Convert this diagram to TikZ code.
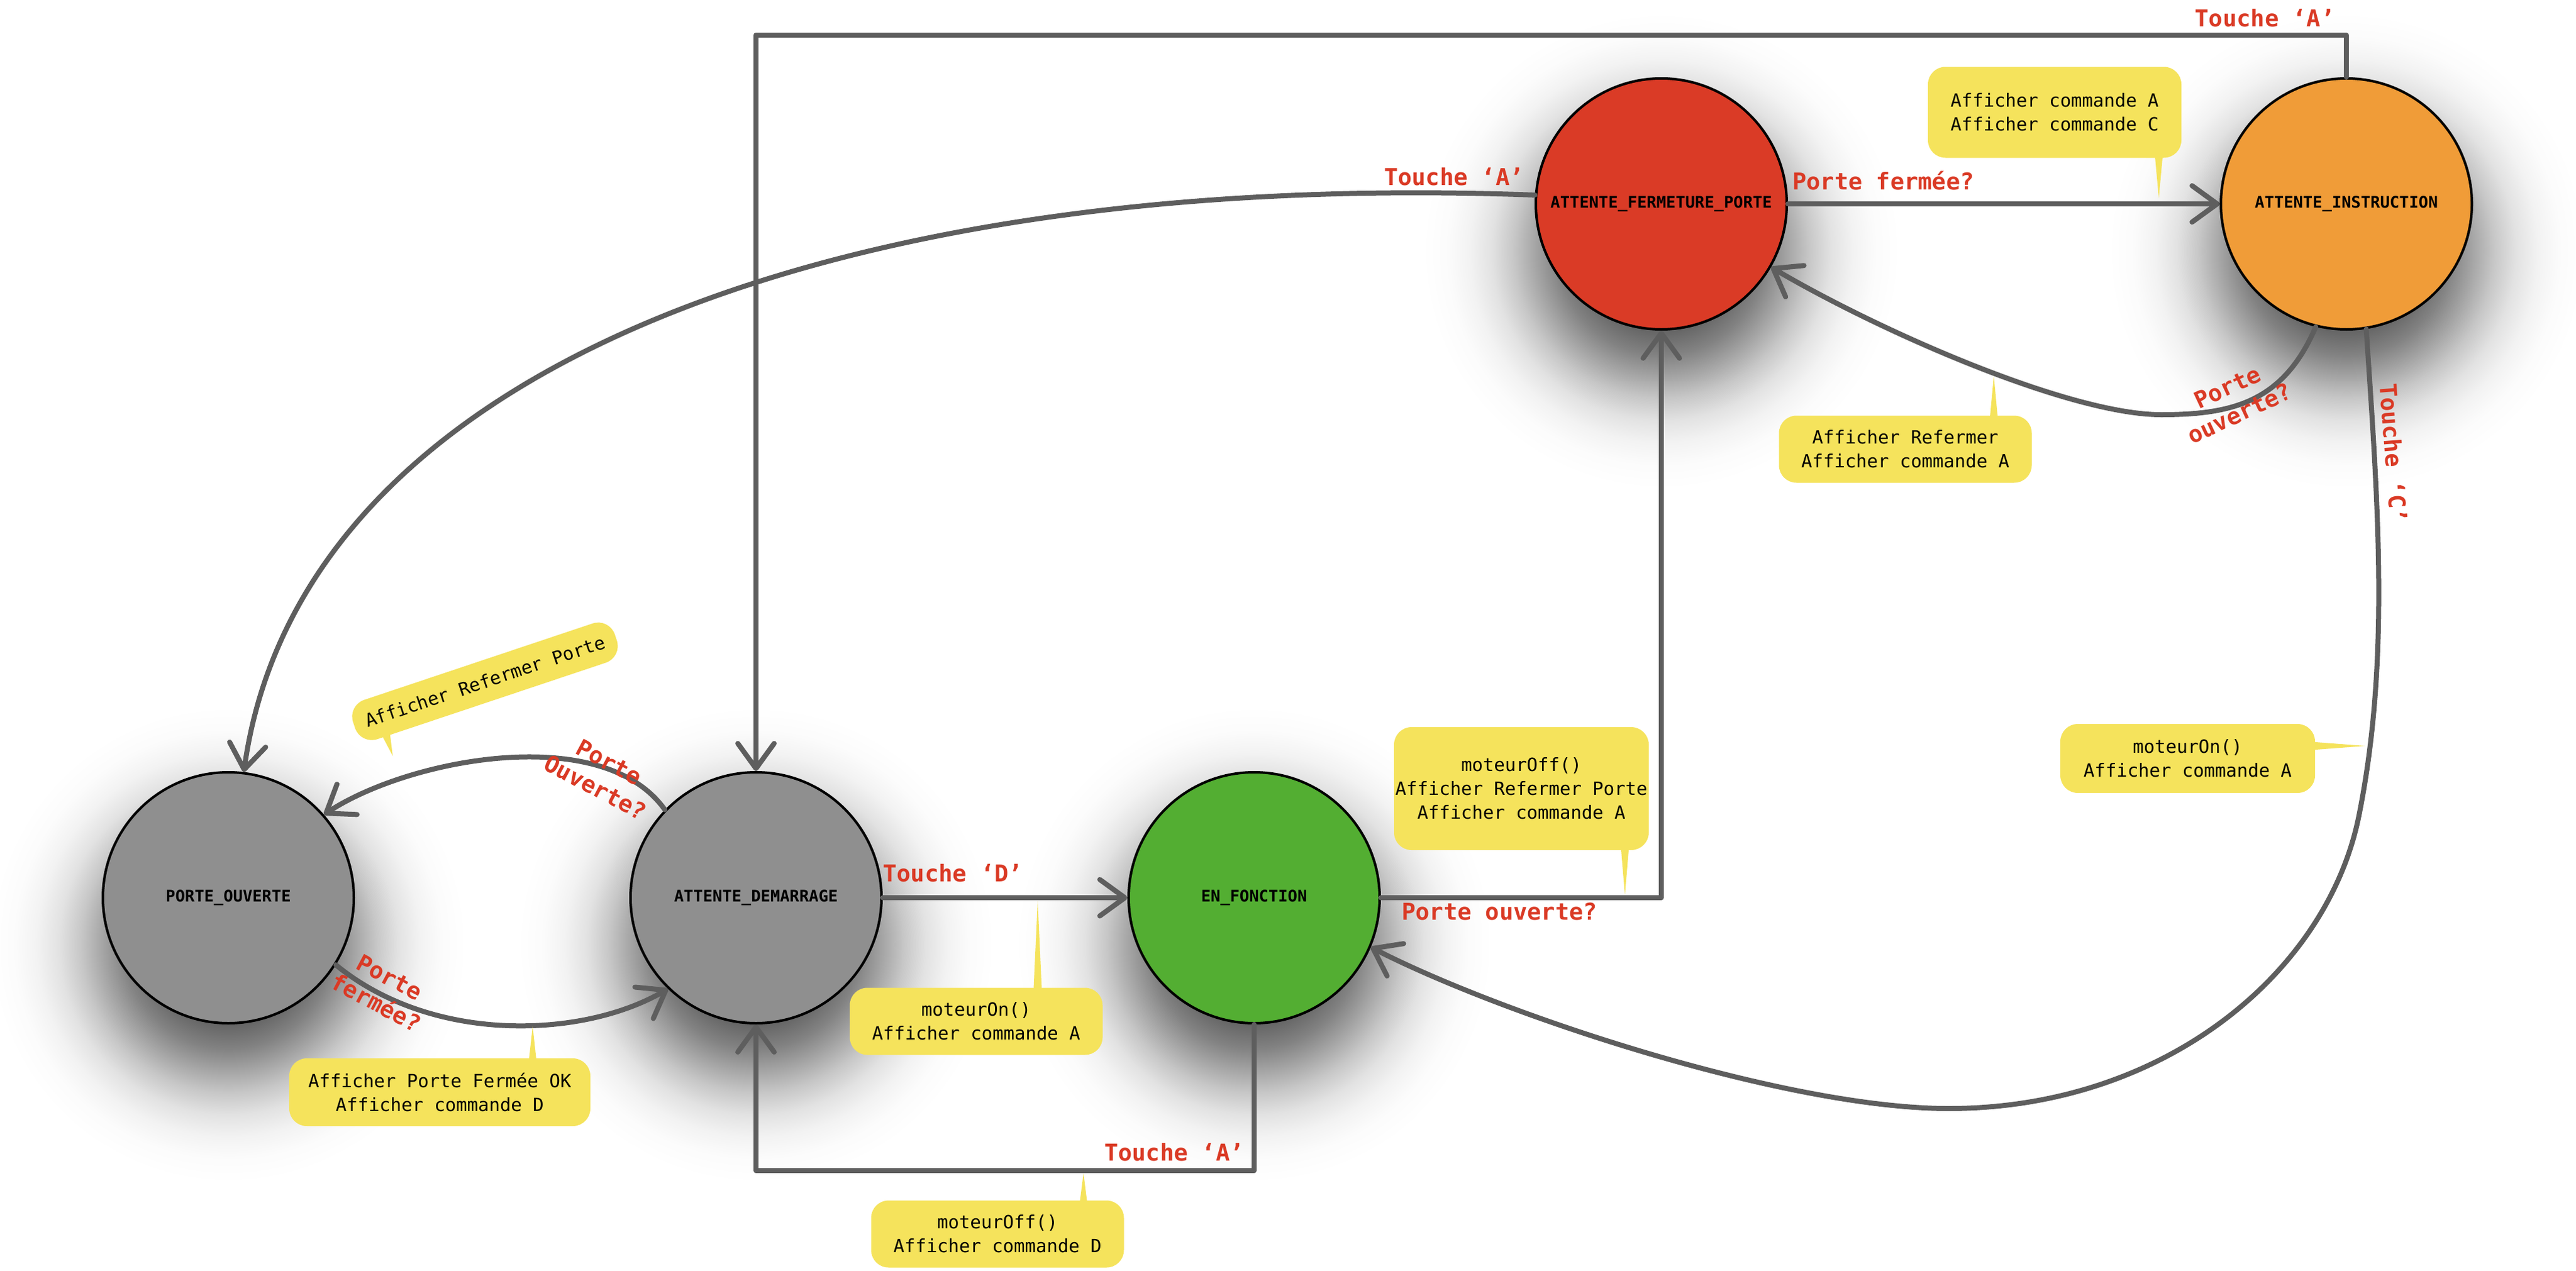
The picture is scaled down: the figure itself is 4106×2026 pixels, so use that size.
\documentclass[tikz,border=0pt]{standalone}
\usepackage{fontspec}
\setmonofont{DejaVu Sans Mono}
\usetikzlibrary{arrows.meta,calc}
\definecolor{edgegray}{HTML}{5E5E5E}
\definecolor{lblred}{HTML}{DA3A25}
\definecolor{noteyellow}{HTML}{F5E35C}
\definecolor{fillred}{HTML}{DA3B26}
\definecolor{fillorange}{HTML}{F09C38}
\definecolor{fillgreen}{HTML}{53AE32}
\definecolor{fillgray}{HTML}{8F8F8F}
\definecolor{shd}{HTML}{4A4A4A}
\pgfdeclareradialshading{nshadow}{\pgfpoint{0bp}{0bp}}{color(0bp)=(shd); color(6.6bp)=(shd!93!white); color(8.55bp)=(shd!84!white); color(10.9bp)=(shd!69!white); color(13.2bp)=(shd!50!white); color(15.5bp)=(shd!31!white); color(17.8bp)=(shd!16!white); color(20.1bp)=(shd!7!white); color(22.4bp)=(shd!2!white); color(25bp)=(white); color(50bp)=(white)}
\pgfdeclarelayer{bg}
\pgfsetlayers{bg,main}
\begin{document}
\begin{tikzpicture}[x=1pt,y=-1pt,
  fsmstate/.style={circle, draw=black, line width=4pt, minimum size=400pt, inner sep=0pt,
    font=\ttfamily\bfseries\fontsize{25.5}{30}\selectfont},
  conn/.style={draw=edgegray, line width=8pt, line cap=round, line join=round,
    -{Straight Barb[length=40pt,width=58pt,round]}},
  lbl/.style={text=lblred, font=\ttfamily\bfseries\fontsize{37}{46}\selectfont, inner sep=0pt, align=center},
  note/.style={fill=noteyellow, rounded corners=28pt, inner sep=0pt, align=center,
    font=\ttfamily\fontsize{29}{38}\selectfont},
  ptr/.style={fill=noteyellow, draw=none}
]
\useasboundingbox (0,0) rectangle (4106,2026);

% states
\node[fsmstate, fill=fillgray]   (po)  at (364,1431)  {PORTE\_OUVERTE};
\node[fsmstate, fill=fillgray]   (ad)  at (1205,1431) {ATTENTE\_DEMARRAGE};
\node[fsmstate, fill=fillgreen]  (ef)  at (1999,1431) {EN\_FONCTION};
\node[fsmstate, fill=fillred]    (afp) at (2648,325)  {ATTENTE\_FERMETURE\_PORTE};
\node[fsmstate, fill=fillorange] (ai)  at (3740,325)  {ATTENTE\_INSTRUCTION};

% background and shadows
\begin{pgfonlayer}{bg}
  \fill[white] (0,0) rectangle (4106,2026);
  \foreach \n in {po,ad,ef,afp,ai}
    \shade[shading=nshadow] ($(\n.center)+(0,75)$) circle[radius=380];
\end{pgfonlayer}

% connectors
\coordinate (topl) at (1205,56);
\coordinate (botr) at (1999,1866);
\draw[conn] (afp.east) -- (ai.west);
\draw[conn] (ai.north) |- (topl) -- (ad.north);
\draw[conn] (ai.256) .. controls (3640,640) and (3560,661) .. (3445,661)
            .. controls (3300,661) and (3000,530) .. (afp.-30);
\draw[conn] (afp.176) .. controls (1350,270) and (480,580) .. (po.83);
\draw[conn] (ai.-81) .. controls (3790,800) and (3810,1050) .. (3760,1300)
            .. controls (3710,1550) and (3450,1767) .. (3106,1767)
            .. controls (2850,1767) and (2400,1620) .. (ef.-23);
\draw[conn] (ad.136) .. controls (960,1150) and (650,1210) .. (po.41);
\draw[conn] (po.-32) .. controls (690,1665) and (930,1655) .. (ad.-134);
\draw[conn] (ad.east) -- (ef.west);
\draw[conn] (ef.south) -- (botr) -| (ad.south);
\draw[conn] (ef.east) -| (afp.south);

% transition labels
\node[lbl, anchor=base]      (l1)  at (3610,43)   {Touche ‘A’};
\node[lbl, anchor=base east] (l2)  at (2429,295)  {Touche ‘A’};
\node[lbl, anchor=base west] (l3)  at (2857,302)  {Porte fermée?};
\node[lbl, rotate=25]        (l4)  at (3560,638)  {Porte\\ouverte?};
\node[lbl, rotate=-85.6]     (l5)  at (3815,722)  {Touche ‘C’};
\node[lbl, anchor=base west] (l6)  at (2234,1466) {Porte ouverte?};
\node[lbl, anchor=base west] (l7)  at (1407,1405) {Touche ‘D’};
\node[lbl, anchor=base east] (l8)  at (1983,1850) {Touche ‘A’};
\node[lbl, rotate=-28]       (l9)  at (960,1235)  {Porte\\Ouverte?};
\node[lbl, rotate=-28]       (l10) at (610,1578)  {Porte\\fermée?};

% callouts
\node[note, minimum width=404pt, minimum height=145pt] (n1) at (3275,179) {Afficher commande A\\Afficher commande C};
\coordinate (n1t) at (3441,316);
\fill[ptr] ([xshift=159pt,yshift=12pt]n1.south) -- (n1t) -- ([xshift=173pt,yshift=12pt]n1.south) -- cycle;

\node[note, minimum width=403pt, minimum height=107pt] (n2) at (3037,716) {Afficher Refermer\\Afficher commande A};
\coordinate (n2t) at (3178,599);
\fill[ptr] ([xshift=134pt,yshift=-12pt]n2.north) -- (n2t) -- ([xshift=148pt,yshift=-12pt]n2.north) -- cycle;

\node[note, minimum width=406pt, minimum height=110pt] (n3) at (3487,1209) {moteurOn()\\Afficher commande A};
\coordinate (n3t) at (3770,1189);
\fill[ptr] ([xshift=-12pt,yshift=27pt]n3.east) -- (n3t) -- ([xshift=-12pt,yshift=13pt]n3.east) -- cycle;

\node[note, minimum width=406pt, minimum height=196pt] (n4) at (2425,1257) {moteurOff()\\Afficher Refermer Porte\\Afficher commande A};
\coordinate (n4t) at (2590,1427);
\fill[ptr] ([xshift=158pt,yshift=12pt]n4.south) -- (n4t) -- ([xshift=172pt,yshift=12pt]n4.south) -- cycle;

\node[note, minimum width=403pt, minimum height=107pt] (n5) at (1556,1628) {moteurOn()\\Afficher commande A};
\coordinate (n5t) at (1654,1436);
\fill[ptr] ([xshift=91pt,yshift=-12pt]n5.north) -- (n5t) -- ([xshift=105pt,yshift=-12pt]n5.north) -- cycle;

\node[note, minimum width=403pt, minimum height=107pt] (n6) at (1590,1967) {moteurOff()\\Afficher commande D};
\coordinate (n6t) at (1727,1870);
\fill[ptr] ([xshift=130pt,yshift=-12pt]n6.north) -- (n6t) -- ([xshift=144pt,yshift=-12pt]n6.north) -- cycle;

\node[note, minimum width=480pt, minimum height=108pt] (n7) at (701,1741) {Afficher Porte Fermée OK\\Afficher commande D};
\coordinate (n7t) at (849,1636);
\fill[ptr] ([xshift=141pt,yshift=-12pt]n7.north) -- (n7t) -- ([xshift=155pt,yshift=-12pt]n7.north) -- cycle;

\node[note, rotate=18.5, minimum width=440pt, minimum height=66pt] (n8) at (773,1086) {Afficher Refermer Porte};
\coordinate (n8t) at (626,1205);
\fill[ptr] ($(n8.south west)!0.075!(n8.south east)+(0,-10)$) -- (n8t) -- ($(n8.south west)!0.11!(n8.south east)+(0,-10)$) -- cycle;
\end{tikzpicture}
\end{document}
